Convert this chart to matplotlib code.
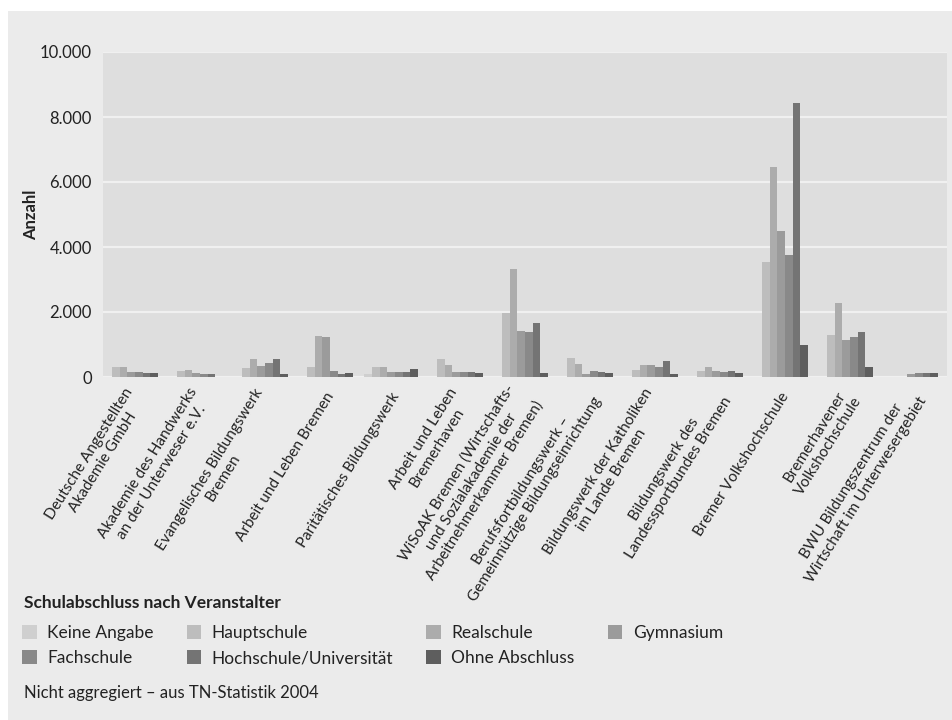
import matplotlib
matplotlib.use("Agg")
import matplotlib.pyplot as plt
from matplotlib.patches import Rectangle, Patch
from matplotlib.transforms import ScaledTranslation
import numpy as np

# ---------------- data ----------------
categories = [
    "Deutsche Angestellten\nAkademie GmbH",
    "Akademie des Handwerks\nan der Unterweser e.V.",
    "Evangelisches Bildungswerk\nBremen",
    "Arbeit und Leben Bremen",
    "Paritätisches Bildungswerk",
    "Arbeit und Leben\nBremerhaven",
    "WiSoAK Bremen (Wirtschafts-\nund Sozialakademie der\nArbeitnehmerkammer Bremen)",
    "Berufsfortbildungswerk –\nGemeinnützige Bildungseinrichtung",
    "Bildungswerk der Katholiken\nim Lande Bremen",
    "Bildungswerk des\nLandessportbundes Bremen",
    "Bremer Volkshochschule",
    "Bremerhavener\nVolkshochschule",
    "BWU Bildungszentrum der\nWirtschaft im Unterwesergebiet",
]
series_names = ["Keine Angabe", "Hauptschule", "Realschule", "Gymnasium",
                "Fachschule", "Hochschule/Universität", "Ohne Abschluss"]

keine_angabe = [0, 0, 0, 0, 80, 0, 0, 0, 0, 0, 0, 0, 0]
hauptschule  = [300, 185, 280, 300, 300, 550, 1960, 575, 210, 185, 3530, 1280, 0]
realschule   = [300, 215, 550, 1260, 300, 360, 3320, 390, 365, 305, 6450, 2270, 0]
gymnasium    = [150, 120, 340, 1230, 150, 145, 1410, 80, 365, 185, 4480, 1130, 80]
fachschule   = [150, 90, 430, 200, 150, 145, 1380, 175, 300, 155, 3740, 1220, 110]
hochschule   = [120, 90, 550, 90, 150, 145, 1650, 145, 485, 185, 8420, 1370, 110]
ohne_abschl  = [120, 0, 90, 120, 240, 115, 110, 115, 90, 120, 1000, 300, 110]

yticks = [0, 2000, 4000, 6000, 8000, 10000]
ytick_labels = ["0", "2.000", "4.000", "6.000", "8.000", "10.000"]

y_label = "Anzahl"
legend_title = "Schulabschluss nach Veranstalter"
footnote = "Nicht aggregiert – aus TN-Statistik 2004"

series = [keine_angabe, hauptschule, realschule, gymnasium,
          fachschule, hochschule, ohne_abschl]
colors = ["#cfcfcf", "#bdbdbd", "#acacac", "#9b9b9b",
          "#898989", "#747474", "#5e5e5e"]

# ---------------- figure ----------------
plt.rcParams["font.family"] = ["Lato", "DejaVu Sans"]
W, H = 952, 720
fig = plt.figure(figsize=(W / 100, H / 100), dpi=100)
fig.patch.set_facecolor("white")
fig.patches.append(Rectangle((8 / W, 0), 1 - 8 / W, (H - 11) / H,
                             transform=fig.transFigure, facecolor="#ebebeb",
                             edgecolor="none", zorder=-10))

ax = fig.add_axes([103 / W, (H - 377) / H, 844 / W, 325 / H])
ax.set_facecolor("#dedede")
for s in ax.spines.values():
    s.set_visible(False)

x = np.arange(len(categories))
bw = 7.7 / 65.0
for k, (vals, col) in enumerate(zip(series, colors)):
    ax.bar(x + (k - 3) * bw, vals, width=bw, color=col, linewidth=0,
           label=series_names[k], zorder=3)

ax.set_ylim(0, 10000)
ax.set_xlim(-0.4346, 12.55)
ax.set_yticks(yticks)
ax.set_yticklabels(ytick_labels)
ax.yaxis.grid(True, color="#f0f0f0", linewidth=1.6, zorder=1)
ax.set_axisbelow(True)
ax.tick_params(axis="y", length=0, pad=8, labelsize=12, labelcolor="#222222")

ax.set_xticks(x)
ax.set_xticklabels(categories, rotation=58, ha="right", va="center",
                   rotation_mode="anchor", multialignment="center",
                   fontsize=11, color="#222222")
ax.tick_params(axis="x", length=0, pad=12)
for lbl in ax.get_xticklabels():
    lbl.set_transform(lbl.get_transform() +
                      ScaledTranslation(5 / 100, 0, fig.dpi_scale_trans))

ax.set_ylabel(y_label, fontsize=12, fontweight="bold", color="#222222")
ax.yaxis.set_label_coords((39 - 103) / 844, 0.5)

# legend (row-major order)
handles = [Patch(facecolor=c, edgecolor="none") for c in colors]
order = [0, 4, 1, 5, 2, 6, 3]
fig.legend([handles[i] for i in order], [series_names[i] for i in order],
           loc="upper left", bbox_to_anchor=(22 / W, (H - 625) / H),
           ncol=4, frameon=False, fontsize=12.5, borderpad=0,
           handlelength=0.85, handleheight=0.8, handletextpad=0.6,
           labelspacing=0.52, columnspacing=1.9, borderaxespad=0,
           labelcolor="#222222")

fig.text(24 / W, (H - 603) / H, legend_title, fontsize=12.5,
         fontweight="bold", va="center", ha="left", color="#222222")
fig.text(24 / W, (H - 693) / H, footnote, fontsize=12,
         va="center", ha="left", color="#222222")

fig.savefig("out.png", dpi=100, facecolor=fig.get_facecolor())
